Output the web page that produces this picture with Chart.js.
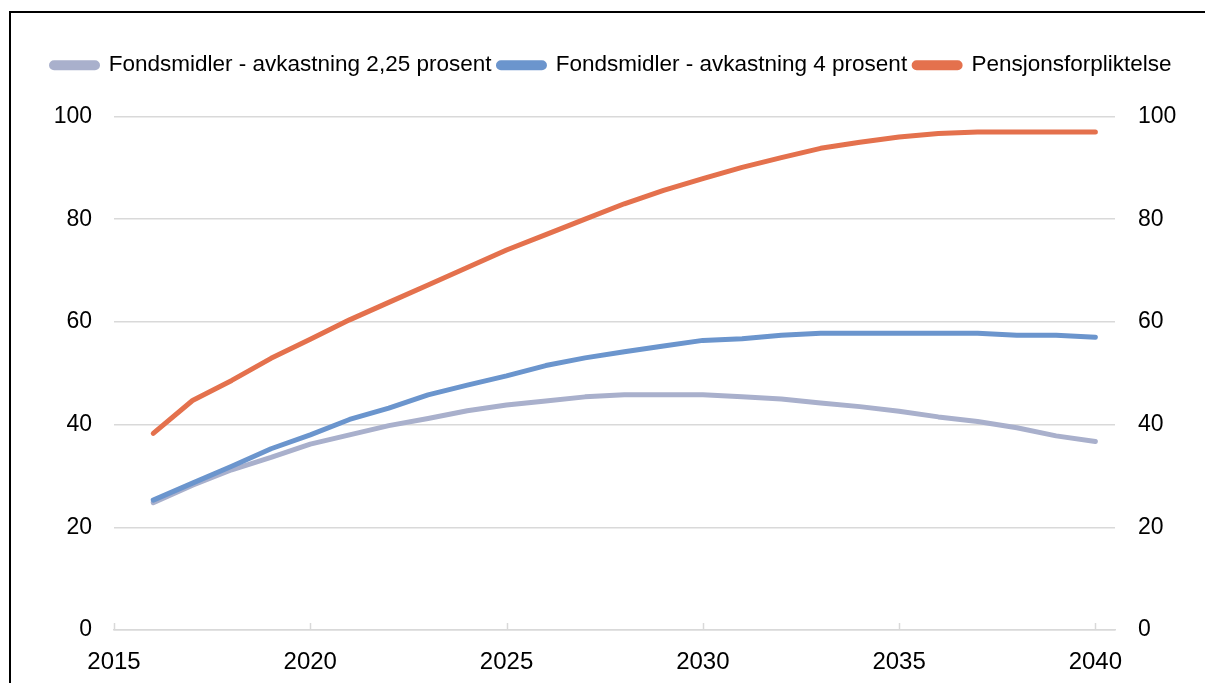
<!DOCTYPE html>
<html>
<head>
<meta charset="utf-8">
<script src="https://cdn.jsdelivr.net/npm/chart.js@4.4.0/dist/chart.umd.min.js"></script>
<style>
  body { margin: 0; width: 1205px; height: 683px; overflow: hidden; background: #fff; position: relative; }
  #ramme { position: absolute; left: 9px; top: 11px; width: 1300px; height: 800px; border: 2px solid #000; }
  #wrap { position: absolute; left: 0; top: 0; width: 1205px; height: 683px; }
</style>
</head>
<body>
<div id="ramme"></div>
<div id="wrap"><canvas id="graf"></canvas></div>
<script>
const AAR = [2016, 2017, 2018, 2019, 2020, 2021, 2022, 2023, 2024, 2025, 2026, 2027, 2028,
  2029, 2030, 2031, 2032, 2033, 2034, 2035, 2036, 2037, 2038, 2039, 2040]
const FOND_225 = [24.8, 28.2, 31.2, 33.6, 36.2, 38.0, 39.8, 41.2, 42.7, 43.8, 44.6, 45.4, 45.8,
  45.8, 45.8, 45.4, 45.0, 44.2, 43.5, 42.6, 41.5, 40.6, 39.4, 37.8, 36.7]
const FOND_4 = [25.3, 28.6, 31.9, 35.3, 38.0, 41.0, 43.2, 45.8, 47.7, 49.5, 51.5, 53.0, 54.2,
  55.3, 56.4, 56.7, 57.4, 57.8, 57.8, 57.8, 57.8, 57.8, 57.4, 57.4, 57.0]
const PENSJON = [38.3, 44.7, 48.6, 52.9, 56.6, 60.4, 63.8, 67.2, 70.6, 74.0, 77.0, 80.0, 83.0,
  85.6, 87.9, 90.1, 92.0, 93.8, 95.0, 96.0, 96.7, 97.0, 97.0, 97.0, 97.0]
const NAVN = ["Fondsmidler - avkastning 2,25 prosent", "Fondsmidler - avkastning 4 prosent", "Pensjonsforpliktelse"]
const FARGER = ["#a9b0cc", "#6b95cd", "#e4714d"]
const X_TICKS = [2015, 2020, 2025, 2030, 2035, 2040]
const Y_TICKS = [0, 20, 40, 60, 80, 100]

const FONT = "'Liberation Sans', Arial, sans-serif"

function punkter(verdier) {
  return AAR.map((a, i) => ({ x: a, y: verdier[i] }))
}

function serie(i, verdier, rekkefolge) {
  return {
    label: NAVN[i],
    data: punkter(verdier),
    borderColor: FARGER[i],
    backgroundColor: FARGER[i],
    borderWidth: 5,
    borderCapStyle: "round",
    borderJoinStyle: "round",
    pointRadius: 0,
    tension: 0,
    order: rekkefolge
  }
}

// smaa tick-streker paa x-aksen som peker innover (som i Excel)
const innTicks = {
  id: "innTicks",
  afterDatasetsDraw(chart) {
    const ctx = chart.ctx
    const xs = chart.scales.x
    const bunn = chart.chartArea.bottom
    ctx.save()
    ctx.strokeStyle = "#d9d9d9"
    ctx.lineWidth = 1.5
    for (let v of X_TICKS) {
      let px = Math.round(xs.getPixelForValue(v)) + 0.5
      ctx.beginPath()
      ctx.moveTo(px, bunn)
      ctx.lineTo(px, bunn - 7)
      ctx.stroke()
    }
    ctx.restore()
  }
}

// ekstra luft under legenden
const legendLuft = {
  id: "legendLuft",
  afterInit(chart) {
    const lg = chart.legend
    if (!lg) return
    const fit = lg.fit
    lg.fit = function () {
      fit.call(this)
      this.height += 30
    }
  }
}

const ctx = document.getElementById("graf").getContext("2d")
const graf = new Chart(ctx, {
  type: "line",
  data: {
    datasets: [
      serie(0, FOND_225, 3),
      serie(1, FOND_4, 2),
      serie(2, PENSJON, 1)
    ]
  },
  options: {
    responsive: true,
    maintainAspectRatio: false,
    animation: false,
    layout: { padding: { top: 47, left: 18, right: 0, bottom: 0 } },
    plugins: {
      tooltip: { enabled: false },
      legend: {
        position: "top",
        labels: {
          color: "#000",
          font: { family: FONT, size: 22.5 },
          boxWidth: 46,
          boxHeight: 5,
          useBorderRadius: true,
          borderRadius: 2.5,
          padding: 7,
          sort: (a, b) => a.datasetIndex - b.datasetIndex
        }
      }
    },
    scales: {
      x: {
        type: "linear",
        min: 2015,
        max: 2040.5,
        afterBuildTicks: (s) => { s.ticks = X_TICKS.map(v => ({ value: v })) },
        afterFit: (s) => { s.height = 53 },
        grid: { display: false, drawTicks: false },
        border: { display: true, color: "#d9d9d9", width: 1.5 },
        ticks: {
          color: "#000",
          font: { family: FONT, size: 24 },
          padding: 18,
          maxRotation: 0,
          autoSkip: false,
          callback: (v) => String(v)
        }
      },
      y: {
        position: "left",
        min: 0,
        max: 100,
        afterBuildTicks: (s) => { s.ticks = Y_TICKS.map(v => ({ value: v })) },
        afterFit: (s) => { s.width = 96 },
        grid: { color: "#d9d9d9", lineWidth: 1.5, drawTicks: false },
        border: { display: false },
        ticks: { color: "#000", font: { family: FONT, size: 23 }, padding: 22 }
      },
      y2: {
        position: "right",
        min: 0,
        max: 100,
        afterBuildTicks: (s) => { s.ticks = Y_TICKS.map(v => ({ value: v })) },
        afterFit: (s) => { s.width = 90 },
        grid: { display: false, drawTicks: false },
        border: { display: false },
        ticks: { color: "#000", font: { family: FONT, size: 23 }, padding: 23 }
      }
    }
  },
  plugins: [innTicks, legendLuft]
})
</script>
</body>
</html>
